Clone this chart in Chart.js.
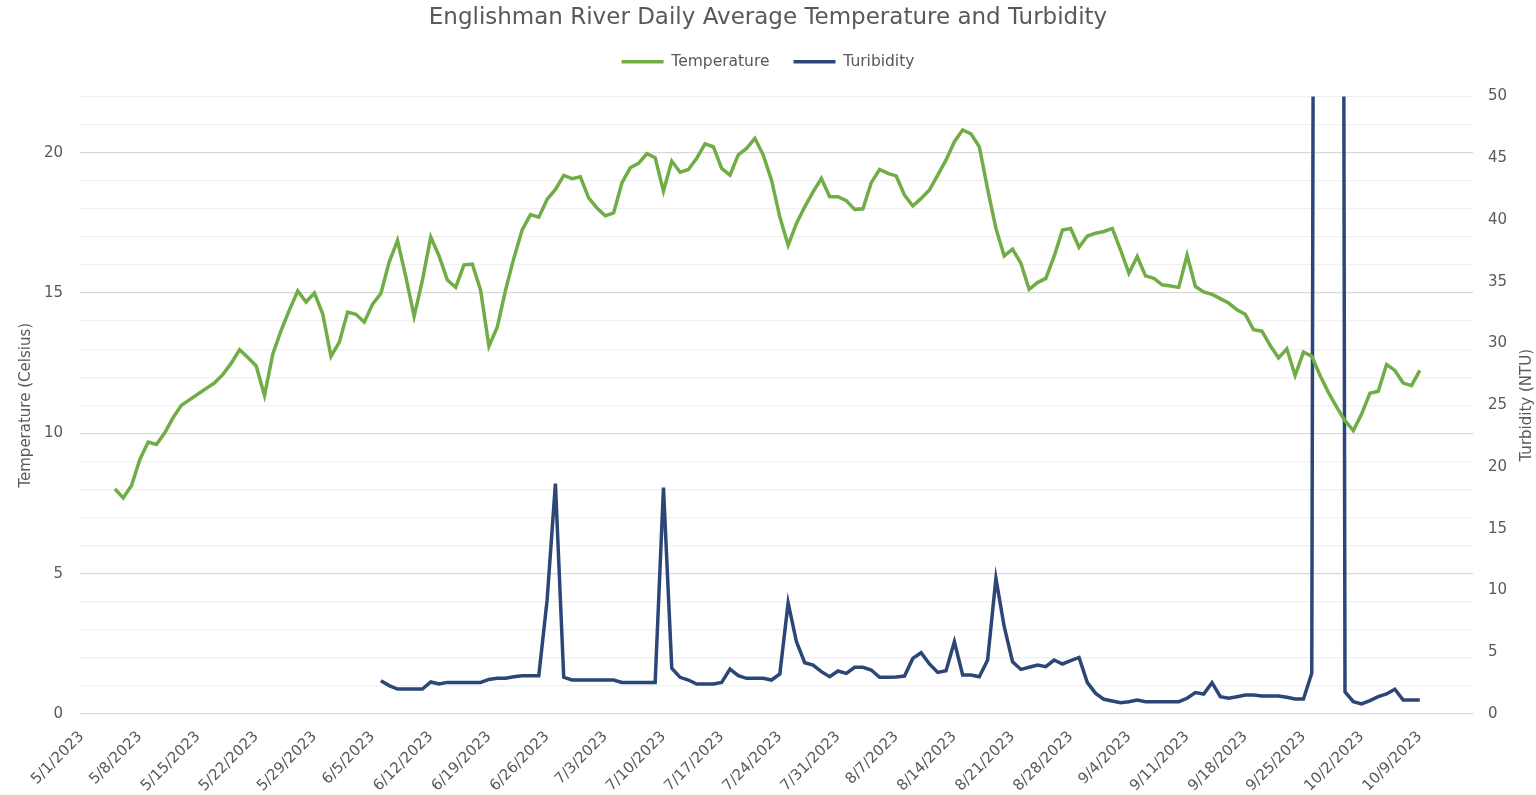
<!DOCTYPE html>
<html>
<head>
<meta charset="utf-8">
<script src="https://cdn.jsdelivr.net/npm/chart.js@4.4.1/dist/chart.umd.min.js"></script>
<style>
  html, body { margin: 0; padding: 0; background: #fff; }
  #chart { display: block; }
</style>
</head>
<body>
<canvas id="chart" width="1536" height="795"></canvas>
<script>
// x axis is days since 5/1/2023, labelled once a week
const tickLabels = ['5/1/2023', '5/8/2023', '5/15/2023', '5/22/2023', '5/29/2023', '6/5/2023',
  '6/12/2023', '6/19/2023', '6/26/2023', '7/3/2023', '7/10/2023', '7/17/2023', '7/24/2023',
  '7/31/2023', '8/7/2023', '8/14/2023', '8/21/2023', '8/28/2023', '9/4/2023', '9/11/2023',
  '9/18/2023', '9/25/2023', '10/2/2023', '10/9/2023'];
const tickDays = [0, 7, 14, 21, 28, 35, 42, 49, 56, 63, 70, 77, 84, 91, 98, 105, 112, 119, 126, 133, 140, 147, 154, 161];

// daily average temperature (Celsius), first value is 5/5/2023
const tempStartDay = 4;
const temperature = [
  8.02, 7.70, 8.14, 9.07, 9.69, 9.60, 10.02, 10.56, 11.00, 11.20,
  11.40, 11.60, 11.80, 12.10, 12.50, 12.98, 12.70, 12.40, 11.35, 12.83,
  13.67, 14.40, 15.07, 14.68, 15.00, 14.26, 12.74, 13.25, 14.32, 14.24,
  13.96, 14.60, 14.98, 16.10, 16.87, 15.58, 14.17, 15.46, 16.99, 16.32,
  15.46, 15.20, 16.00, 16.03, 15.10, 13.10, 13.78, 15.10, 16.24, 17.25,
  17.79, 17.70, 18.33, 18.69, 19.19, 19.07, 19.14, 18.39, 18.03, 17.75,
  17.85, 18.92, 19.46, 19.62, 19.96, 19.82, 18.63, 19.70, 19.30, 19.40,
  19.80, 20.31, 20.21, 19.44, 19.20, 19.92, 20.15, 20.51, 19.92, 19.02,
  17.71, 16.70, 17.48, 18.07, 18.60, 19.08, 18.43, 18.43, 18.29, 17.98,
  18.00, 18.93, 19.40, 19.26, 19.17, 18.49, 18.10, 18.37, 18.67, 19.20,
  19.74, 20.39, 20.81, 20.67, 20.21, 18.70, 17.30, 16.32, 16.56, 16.06,
  15.13, 15.37, 15.52, 16.30, 17.24, 17.30, 16.63, 17.03, 17.13, 17.19,
  17.30, 16.53, 15.70, 16.30, 15.61, 15.52, 15.29, 15.25, 15.20, 16.35,
  15.23, 15.04, 14.95, 14.80, 14.64, 14.40, 14.24, 13.69, 13.64, 13.13,
  12.69, 13.01, 12.06, 12.89, 12.75, 12.06, 11.46, 10.93, 10.45, 10.10,
  10.69, 11.43, 11.50, 12.45, 12.24, 11.79, 11.70, 12.24
];

// daily average turbidity (NTU), first value is 6/6/2023
const turbStartDay = 36;
const turbidity = [
  2.70, 2.30, 2.02, 2.02, 2.02, 2.02, 2.59, 2.43, 2.56, 2.56,
  2.56, 2.56, 2.56, 2.80, 2.89, 2.89, 3.02, 3.10, 3.10, 3.10,
  9.22, 18.66, 2.97, 2.75, 2.75, 2.75, 2.75, 2.75, 2.75, 2.56,
  2.56, 2.56, 2.56, 2.56, 18.34, 3.70, 2.97, 2.75, 2.43, 2.43,
  2.43, 2.56, 3.64, 3.10, 2.89, 2.89, 2.89, 2.75, 3.24, 9.00,
  5.85, 4.15, 3.96, 3.43, 3.02, 3.48, 3.29, 3.78, 3.78, 3.56,
  2.97, 2.97, 3.00, 3.07, 4.50, 4.96, 4.05, 3.37, 3.50, 5.85,
  3.16, 3.16, 3.02, 4.37, 10.98, 7.07, 4.23, 3.61, 3.78, 3.96,
  3.83, 4.37, 4.05, 4.32, 4.58, 2.54, 1.67, 1.19, 1.05, 0.92,
  1.00, 1.13, 1.00, 1.00, 1.00, 1.00, 1.00, 1.27, 1.73, 1.62,
  2.54, 1.40, 1.27, 1.40, 1.54, 1.54, 1.46, 1.46, 1.46, 1.35,
  1.21, 1.21, 3.30, 300, 400, 350, 1.80, 1.00, 0.81, 1.08,
  1.40, 1.62, 2.00, 1.13, 1.13, 1.13
];

const FONT = "'DejaVu Sans', sans-serif";
const GREY = '#595959';

const tempPoints = temperature.map((v, i) => ({ x: tempStartDay + i, y: v }));
const turbPoints = turbidity.map((v, i) => ({ x: turbStartDay + i, y: v }));

// right axis title reads bottom-to-top like the left one
const rightTitle = {
  id: 'rightTitle',
  afterDraw(chart) {
    const ctx = chart.ctx, area = chart.chartArea;
    ctx.save();
    ctx.translate(1527, (area.top + area.bottom) / 2);
    ctx.rotate(-Math.PI / 2);
    ctx.font = '15px ' + FONT;
    ctx.fillStyle = GREY;
    ctx.textAlign = 'center';
    ctx.textBaseline = 'middle';
    ctx.fillText('Turbidity (NTU)', 0, 0);
    ctx.restore();
  }
};

new Chart(document.getElementById('chart'), {
  type: 'line',
  data: {
    datasets: [
      {
        label: 'Temperature',
        data: tempPoints,
        yAxisID: 'y',
        borderColor: '#70AD47',
        backgroundColor: '#70AD47',
        borderWidth: 3.5,
        pointRadius: 0,
        tension: 0,
        clip: 0
      },
      {
        label: 'Turibidity',
        data: turbPoints,
        yAxisID: 'y2',
        borderColor: '#2B4677',
        backgroundColor: '#2B4677',
        borderWidth: 3.5,
        pointRadius: 0,
        tension: 0,
        clip: 0
      }
    ]
  },
  options: {
    responsive: false,
    animation: false,
    layout: { padding: 0 },
    plugins: {
      title: {
        display: true,
        text: 'Englishman River Daily Average Temperature and Turbidity',
        color: GREY,
        font: { family: FONT, size: 23, weight: 'normal', lineHeight: 1 },
        padding: { top: 7, bottom: 0 }
      },
      // empty spacer between legend and plot
      subtitle: {
        display: true,
        text: ' ',
        weight: 500,
        font: { size: 1, lineHeight: 1 },
        padding: { top: 16, bottom: 0 }
      },
      legend: {
        position: 'top',
        labels: {
          color: GREY,
          font: { family: FONT, size: 15.5 },
          usePointStyle: true,
          pointStyle: 'line',
          pointStyleWidth: 42,
          padding: 24
        }
      },
      tooltip: { enabled: false }
    },
    scales: {
      x: {
        type: 'linear',
        min: -0.2,
        max: 167.4,
        afterBuildTicks: (axis) => { axis.ticks = tickDays.map(v => ({ value: v })); },
        afterFit: (scale) => { scale.height = 81; },
        grid: { display: false },
        border: { display: false },
        ticks: {
          autoSkip: false,
          minRotation: 45,
          maxRotation: 45,
          padding: 6,
          color: GREY,
          font: { family: FONT, size: 15 },
          callback: (v) => tickLabels[tickDays.indexOf(v)]
        }
      },
      y: {
        position: 'left',
        min: 0,
        max: 22,
        afterFit: (scale) => { scale.width = 80; },
        border: { display: false },
        grid: {
          drawTicks: false,
          lineWidth: 1.2,
          color: (ctx) => ctx.tick && ctx.tick.value % 5 === 0 ? '#d9d9d9' : '#f0f0f0'
        },
        ticks: {
          stepSize: 1,
          autoSkip: false,
          padding: 17,
          color: GREY,
          font: { family: FONT, size: 15 },
          callback: (v) => v % 5 === 0 ? v : ''
        },
        title: {
          display: true,
          text: 'Temperature (Celsius)',
          color: GREY,
          font: { family: FONT, size: 15 },
          padding: { top: 17, bottom: 0 }
        }
      },
      y2: {
        position: 'right',
        min: 0,
        max: 50,
        afterFit: (scale) => { scale.width = 63; },
        border: { display: false },
        grid: { display: false, drawTicks: false },
        ticks: {
          stepSize: 5,
          padding: 15,
          color: GREY,
          font: { family: FONT, size: 15 }
        }
      }
    }
  },
  plugins: [rightTitle]
});
</script>
</body>
</html>
